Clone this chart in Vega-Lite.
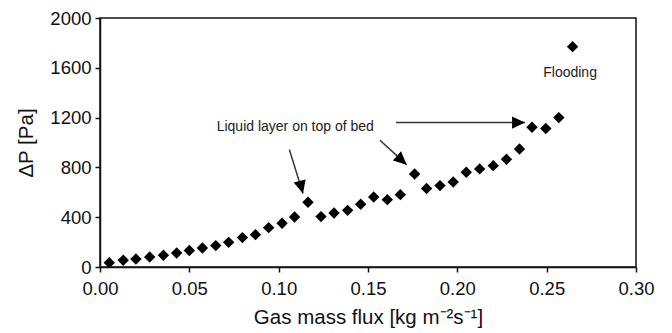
{
  "$schema": "https://vega.github.io/schema/vega-lite/v6.json",
  "width": 536,
  "height": 249,
  "autosize": {"type": "none"},
  "padding": {"left": 100, "top": 18, "right": 36, "bottom": 66},
  "background": "white",
  "config": {
    "font": "Liberation Sans",
    "view": {"stroke": "#111", "strokeWidth": 1.5},
    "axis": {
      "grid": false,
      "domainColor": "#111",
      "domainWidth": 1.5,
      "tickColor": "#111",
      "tickWidth": 1.5,
      "tickSize": 5,
      "labelFlush": false,
      "labelFont": "Liberation Sans",
      "labelFontSize": 18.5,
      "labelColor": "#111",
      "titleFont": "Liberation Sans",
      "titleFontSize": 20.5,
      "titleFontWeight": "normal",
      "titleColor": "#111"
    }
  },
  "datasets": {
    "points": [
      {"flux": 0.0052, "dp": 35},
      {"flux": 0.0130, "dp": 54},
      {"flux": 0.0201, "dp": 64},
      {"flux": 0.0278, "dp": 80},
      {"flux": 0.0355, "dp": 94},
      {"flux": 0.0429, "dp": 112},
      {"flux": 0.0500, "dp": 132},
      {"flux": 0.0573, "dp": 153},
      {"flux": 0.0648, "dp": 172},
      {"flux": 0.0720, "dp": 198},
      {"flux": 0.0797, "dp": 236},
      {"flux": 0.0870, "dp": 260},
      {"flux": 0.0944, "dp": 316},
      {"flux": 0.1019, "dp": 351},
      {"flux": 0.1089, "dp": 402},
      {"flux": 0.1164, "dp": 520},
      {"flux": 0.1237, "dp": 405},
      {"flux": 0.1310, "dp": 434},
      {"flux": 0.1386, "dp": 455},
      {"flux": 0.1459, "dp": 504},
      {"flux": 0.1532, "dp": 562},
      {"flux": 0.1608, "dp": 541},
      {"flux": 0.1681, "dp": 581},
      {"flux": 0.1761, "dp": 747},
      {"flux": 0.1828, "dp": 630},
      {"flux": 0.1903, "dp": 654},
      {"flux": 0.1977, "dp": 683},
      {"flux": 0.2050, "dp": 761},
      {"flux": 0.2125, "dp": 788},
      {"flux": 0.2201, "dp": 814},
      {"flux": 0.2275, "dp": 865},
      {"flux": 0.2348, "dp": 948},
      {"flux": 0.2418, "dp": 1122},
      {"flux": 0.2495, "dp": 1112},
      {"flux": 0.2568, "dp": 1200},
      {"flux": 0.2645, "dp": 1770}
    ],
    "labelLeft": [
      {"x": 0.0653, "y": 1124, "text": "Liquid layer on top of bed"}
    ],
    "labelCenter": [
      {"x": 0.2631, "y": 1558, "text": "Flooding"}
    ],
    "arrows": [
      {"x": 0.1060, "y": 943, "x2": 0.1136, "y2": 590, "angle": 165},
      {"x": 0.1567, "y": 1018, "x2": 0.1716, "y2": 822, "angle": 132},
      {"x": 0.1657, "y": 1160, "x2": 0.2379, "y2": 1160, "angle": 90}
    ]
  },
  "layer": [
    {
      "data": {"name": "points"},
      "mark": {"type": "point", "shape": "diamond", "filled": true, "size": 130, "color": "#000", "opacity": 1},
      "encoding": {
        "x": {
          "field": "flux", "type": "quantitative",
          "scale": {"domain": [0, 0.3], "nice": false, "padding": 0},
          "axis": {"values": [0, 0.05, 0.1, 0.15, 0.2, 0.25, 0.3], "format": ".2f", "labelPadding": 7, "titlePadding": 10, "title": "Gas mass flux [kg m⁻²s⁻¹]"}
        },
        "y": {
          "field": "dp", "type": "quantitative",
          "scale": {"domain": [0, 2000], "nice": false, "padding": 0},
          "axis": {"values": [0, 400, 800, 1200, 1600, 2000], "format": "d", "labelPadding": 4, "titlePadding": 13, "title": "ΔP [Pa]"}
        }
      }
    },
    {
      "data": {"name": "arrows"},
      "mark": {"type": "rule", "color": "#333", "strokeWidth": 1.5},
      "encoding": {
        "x": {"field": "x", "type": "quantitative"},
        "y": {"field": "y", "type": "quantitative"},
        "x2": {"field": "x2"},
        "y2": {"field": "y2"}
      }
    },
    {
      "data": {"name": "arrows"},
      "mark": {"type": "point", "shape": "M0,0L0.95,2L-0.95,2Z", "filled": true, "size": 169, "color": "#000", "opacity": 1},
      "encoding": {
        "x": {"field": "x2", "type": "quantitative"},
        "y": {"field": "y2", "type": "quantitative"},
        "angle": {"field": "angle", "type": "quantitative", "scale": null}
      }
    },
    {
      "data": {"name": "labelLeft"},
      "mark": {"type": "text", "font": "Liberation Sans", "fontSize": 14, "color": "#222", "baseline": "middle", "align": "left"},
      "encoding": {
        "x": {"field": "x", "type": "quantitative"},
        "y": {"field": "y", "type": "quantitative"},
        "text": {"field": "text"}
      }
    },
    {
      "data": {"name": "labelCenter"},
      "mark": {"type": "text", "font": "Liberation Sans", "fontSize": 14, "color": "#222", "baseline": "middle", "align": "center"},
      "encoding": {
        "x": {"field": "x", "type": "quantitative"},
        "y": {"field": "y", "type": "quantitative"},
        "text": {"field": "text"}
      }
    }
  ]
}
